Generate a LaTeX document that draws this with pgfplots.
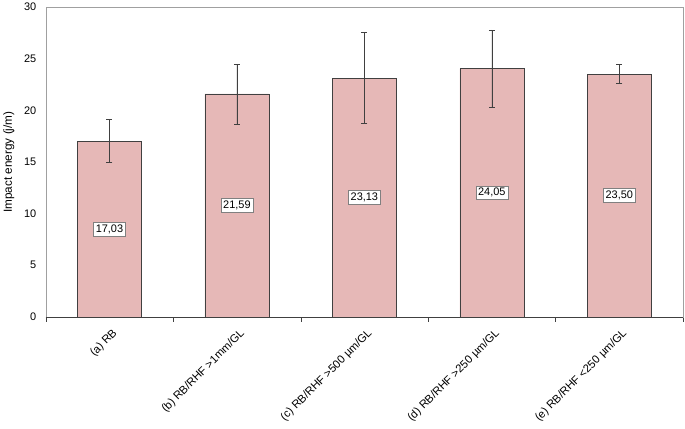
\documentclass[border=0pt]{standalone}
\usepackage{fontspec}
\setmainfont{Liberation Sans}
\usepackage{pgfplots}
\pgfplotsset{compat=1.18}
\definecolor{barfill}{RGB}{230,184,183}
\definecolor{baredge}{RGB}{64,64,64}
\definecolor{axgray}{RGB}{160,160,160}
\begin{document}
\begin{tikzpicture}
\begin{axis}[
  scale only axis, width=638bp, height=310bp,
  xmin=-0.5, xmax=4.5, ymin=0, ymax=30,
  ytick={0,5,...,30},
  xtick={0,1,2,3,4},
  xticklabels={(a) RB, (b) RB/RHF >1mm/GL, (c) RB/RHF >500 µm/GL, (d) RB/RHF >250 µm/GL, (e) RB/RHF <250 µm/GL},
  minor xtick={-0.5,0.5,1.5,2.5,3.5,4.5},
  xtick pos=bottom, ytick pos=left,
  major tick length=0pt,
  minor tick length=5bp,
  tick align=outside,
  minor x tick style={draw=baredge},
  axis line style={draw=axgray},
  /pgf/number format/assume math mode=true,
  yticklabel style={font=\fontsize{11}{13}\selectfont, xshift=-6bp},
  xticklabel style={font=\fontsize{11.3}{13}\selectfont, rotate=45, anchor=north east, xshift=-3bp, yshift=-6bp},
  ylabel={Impact energy (j/m)},
  every axis y label/.style={at={(axis description cs:-0.058,0.5)}, rotate=90, anchor=center, font=\fontsize{11.8}{13}\selectfont},
  clip=false,
]
\addplot[ybar, bar width=64bp, fill=barfill, draw=baredge,
  error bars/.cd, y dir=both, y explicit,
  error bar style={color=baredge, line width=0.6pt},
  error mark options={rotate=90, color=baredge, mark size=3bp, line width=0.6pt}]
coordinates {
  (0,17.03) +- (0,2.1)
  (1,21.59) +- (0,2.9)
  (2,23.13) +- (0,4.4)
  (3,24.05) +- (0,3.75)
  (4,23.50) +- (0,0.92)
};
\addplot[only marks, mark=none, nodes near coords, point meta=explicit symbolic,
  nodes near coords style={draw=gray, fill=white, inner sep=2.4pt, anchor=center, font=\fontsize{11}{13}\selectfont}]
coordinates {
  (0,8.515) [17,03]
  (1,10.795) [21,59]
  (2,11.565) [23,13]
  (3,12.025) [24,05]
  (4,11.75) [23,50]
};
\draw[baredge] (rel axis cs:0,0) -- (rel axis cs:1,0);
\end{axis}
\path[use as bounding box] (-45bp,-104bp) rectangle (640bp,316bp);
\end{tikzpicture}
\end{document}
